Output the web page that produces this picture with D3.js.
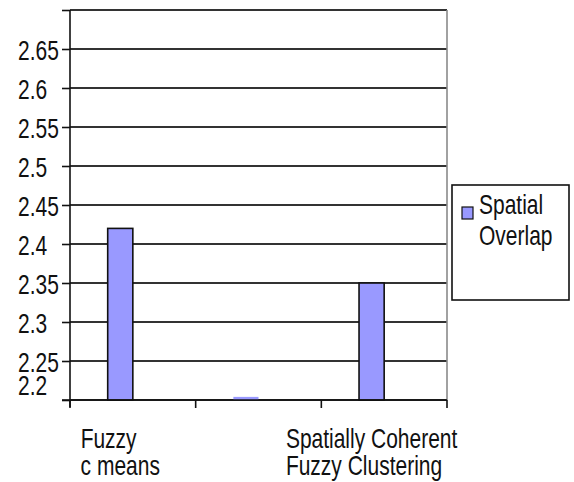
<!DOCTYPE html>
<html>
<head>
<meta charset="utf-8">
<script src="https://cdn.jsdelivr.net/npm/d3@7"></script>
<style>
  body { margin: 0; background: #fff; }
  text { font-family: "Liberation Sans", Arial, sans-serif; font-size: 21px; fill: #111; }
</style>
</head>
<body>
<svg width="574" height="482"></svg>
<script>
// data
const categories = ['Fuzzy c means', '', 'Spatially Coherent Fuzzy Clustering'];
const categoryLines = [['Fuzzy', 'c means'], [], ['Spatially Coherent', 'Fuzzy Clustering']];
const overlap = [2.42, 2.204, 2.35];
const seriesName = ['Spatial', 'Overlap'];
const tickValues = [2.2, 2.25, 2.3, 2.35, 2.4, 2.45, 2.5, 2.55, 2.6, 2.65, 2.7];
const tickLabels = ['2.2', '2.25', '2.3', '2.35', '2.4', '2.45', '2.5', '2.55', '2.6', '2.65', ''];

const render = () => {
  const svg = d3.select('svg');
  const stretch = 'scale(1,1.33)';   // text in the picture is tall and thin
  const barFill = '#9999ff';

  //scales
  const x = d3.scaleBand()
    .domain(categories)
    .range([70, 447])
    .padding(0);

  const y = d3.scaleLinear()
    .domain([2.2, 2.7])
    .range([400, 10]);

  //gridlines
  svg.append('g')
    .selectAll('line')
    .data(tickValues)
    .enter()
    .append('line')
      .attr('x1', x.range()[0])
      .attr('x2', x.range()[1])
      .attr('y1', d => y(d))
      .attr('y2', d => y(d))
      .attr('stroke', '#333')
      .attr('stroke-width', 1.8);

  //right border of the plot
  svg.append('line')
    .attr('x1', x.range()[1]).attr('x2', x.range()[1])
    .attr('y1', y(2.7)).attr('y2', y(2.2))
    .attr('stroke', '#8a8a8a')
    .attr('stroke-width', 1.6);

  //bars (the tiny middle one is drawn without an outline, as in the picture)
  svg.append('g')
    .selectAll('rect')
    .data(overlap)
    .enter()
    .append('rect')
      .attr('x', (d, i) => x(categories[i]) + x.bandwidth() * 0.3)
      .attr('width', x.bandwidth() * 0.2)
      .attr('y', d => y(d))
      .attr('height', d => y(2.2) - y(d))
      .attr('fill', barFill)
      .attr('stroke', d => (y(2.2) - y(d) < 5 ? 'none' : '#111'))
      .attr('stroke-width', 1.6);

  //y axis
  const yAxis = svg.append('g')
    .attr('transform', `translate(${x.range()[0]},0)`)
    .call(d3.axisLeft(y)
      .tickValues(tickValues)
      .tickSize(8)
      .tickFormat((d, i) => tickLabels[i]));

  yAxis.select('.domain').remove();
  yAxis.append('line')
    .attr('y1', y(2.7)).attr('y2', y(2.2) + 7)
    .attr('stroke', '#111')
    .attr('stroke-width', 1.6);
  yAxis.selectAll('.tick line')
    .attr('stroke', '#111')
    .attr('stroke-width', 1.6);
  yAxis.selectAll('.tick text')
    .attr('x', -52)
    .attr('dy', '0.36em')
    .attr('text-anchor', 'start')
    .attr('transform', stretch)
    .style('font-size', '21px')
    .style('font-family', '"Liberation Sans", Arial, sans-serif')
    .attr('fill', '#111');
  //the lowest label sits above its line in the picture
  yAxis.selectAll('.tick text')
    .filter(d => d === 2.2)
    .attr('dy', '-0.2em');

  //x axis
  const xAxis = svg.append('g');
  xAxis.append('line')
    .attr('x1', x.range()[0] - 8).attr('x2', x.range()[1])
    .attr('y1', y(2.2)).attr('y2', y(2.2))
    .attr('stroke', '#111')
    .attr('stroke-width', 1.6);
  const edges = categories.map(c => x(c)).concat([x.range()[1]]);
  xAxis.selectAll('.xtick')
    .data(edges)
    .enter()
    .append('line')
      .attr('class', 'xtick')
      .attr('x1', d => d).attr('x2', d => d)
      .attr('y1', y(2.2)).attr('y2', y(2.2) + 8)
      .attr('stroke', '#111')
      .attr('stroke-width', 1.6);

  //category labels, block centred under the bar, lines left aligned
  categoryLines.forEach((lines, i) => {
    if (!lines.length) return;
    const cx = x(categories[i]) + x.bandwidth() * 0.4;
    const g = svg.append('g')
      .attr('transform', `translate(${cx},448)`);
    const t = g.append('text').attr('transform', stretch);
    lines.forEach((s, j) => {
      t.append('tspan')
        .attr('x', 0)
        .attr('dy', j === 0 ? 0 : 20)
        .text(s);
    });
    const w = d3.max(t.selectAll('tspan').nodes(), n => n.getComputedTextLength());
    t.selectAll('tspan').attr('x', -w / 2);
  });

  //legend
  const legend = svg.append('g')
    .attr('transform', 'translate(452,185)');
  legend.append('rect')
    .attr('width', 117)
    .attr('height', 115)
    .attr('fill', '#fff')
    .attr('stroke', '#111')
    .attr('stroke-width', 1.6);
  legend.append('rect')
    .attr('x', 10).attr('y', 22)
    .attr('width', 11).attr('height', 12)
    .attr('fill', barFill)
    .attr('stroke', '#111')
    .attr('stroke-width', 1.2);
  const lt = legend.append('g')
    .attr('transform', 'translate(27,29)')
    .append('text')
      .attr('transform', stretch);
  seriesName.forEach((s, j) => {
    lt.append('tspan')
      .attr('x', 0)
      .attr('dy', j === 0 ? 0 : 23.5)
      .text(s);
  });
};

render();
</script>
</body>
</html>
